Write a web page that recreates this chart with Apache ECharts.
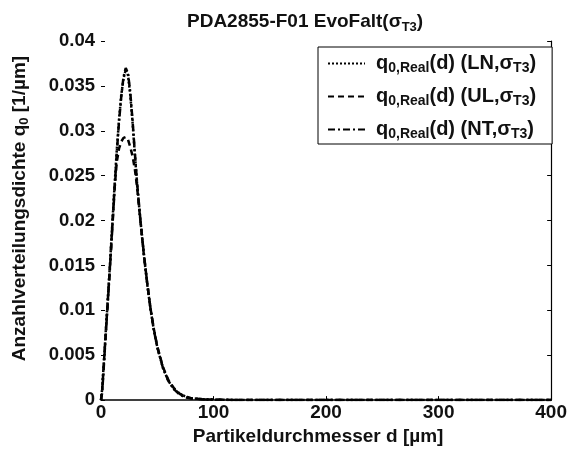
<!DOCTYPE html>
<html>
<head>
<meta charset="utf-8">
<script src="https://cdn.jsdelivr.net/npm/echarts@6/dist/echarts.min.js"></script>
<style>
  html, body { margin: 0; padding: 0; background: #fff; }
  #chart { width: 570px; height: 451px; }
</style>
</head>
<body>
<div id="chart"></div>
<script>
// Partikeldurchmesser d [µm]
const dValues = [0, 1, 2, 3, 4, 5, 6, 7, 8, 10, 12, 14, 16, 18, 20, 22, 24, 26, 28, 30, 32, 35, 38, 41, 44, 47, 50, 55, 60, 65, 70, 75, 80, 90, 100, 125, 150, 200, 250, 300, 350, 400];

// q0 Werte der drei Verteilungen
const qLN = [0, 0.0012, 0.0032, 0.0052, 0.0072, 0.0092, 0.0112, 0.0132, 0.0152, 0.0195, 0.0238, 0.0278, 0.0312, 0.0340, 0.0358, 0.0368, 0.0362, 0.0340, 0.0310, 0.0275, 0.0242, 0.0200, 0.0163, 0.0130, 0.0101, 0.0078, 0.0059, 0.0036, 0.0021, 0.0012, 0.0007, 0.0004, 0.0002, 0.0001, 0.00005, 0, 0, 0, 0, 0, 0, 0];
const qUL = [0, 0.0010, 0.0030, 0.0050, 0.0070, 0.0090, 0.0110, 0.0130, 0.0150, 0.0193, 0.0235, 0.0265, 0.0280, 0.0288, 0.0292, 0.0293, 0.0290, 0.0282, 0.0272, 0.0258, 0.0238, 0.0200, 0.0163, 0.0131, 0.0102, 0.0079, 0.0060, 0.0037, 0.0022, 0.0013, 0.0007, 0.0004, 0.0002, 0.0001, 0.00005, 0, 0, 0, 0, 0, 0, 0];
const qNT = [0, 0.0008, 0.0027, 0.0048, 0.0068, 0.0088, 0.0108, 0.0128, 0.0148, 0.0190, 0.0233, 0.0275, 0.0310, 0.0338, 0.0360, 0.0370, 0.0364, 0.0343, 0.0312, 0.0277, 0.0243, 0.0201, 0.0164, 0.0131, 0.0102, 0.0078, 0.0059, 0.0036, 0.0021, 0.0012, 0.0006, 0.0003, 0.0002, 0.0001, 0.00005, 0, 0, 0, 0, 0, 0, 0];

const seriesNames = ['LN', 'UL', 'NT'];

const FONT = 'Liberation Sans, Arial, sans-serif';
const toPairs = (ys) => dValues.map((d, i) => [d, ys[i]]);

// Text mit tiefgestellten Teilen
const richSub = (size, subSize, lh, drop) => ({
  b: { fontFamily: FONT, fontWeight: 'bold', fontSize: size, color: '#111', lineHeight: lh, verticalAlign: 'middle' },
  s: { fontFamily: FONT, fontWeight: 'bold', fontSize: subSize, color: '#111', lineHeight: lh, verticalAlign: 'bottom', padding: [drop, 0, 0, 0] }
});

const chart = echarts.init(document.getElementById('chart'));

const option = {
  backgroundColor: '#fff',
  animation: false,
  title: {
    text: '{b|PDA2855-F01 EvoFalt(σ}{s|T3}{b|)}',
    left: 187,
    top: 10,
    padding: 0,
    textStyle: { rich: richSub(19, 13, 24, 12) }
  },
  legend: {
    orient: 'vertical',
    left: 318,
    top: 47,
    padding: [3, 16, 3, 9],
    itemGap: 8,
    itemWidth: 37,
    itemHeight: 12,
    borderColor: '#000',
    borderWidth: 1,
    backgroundColor: '#fff',
    itemStyle: { opacity: 0 },
    data: seriesNames,
    formatter: (name) => '{g|}{b|q}{s|0,Real}{b|(d) (' + name + ',σ}{s|T3}{b|)}',
    textStyle: {
      rich: Object.assign(richSub(20, 14, 23, 11), { g: { width: 6 } })
    }
  },
  grid: { left: 99, right: 11, top: 41, bottom: 48 },
  xAxis: {
    type: 'value',
    min: 0,
    max: 400,
    interval: 100,
    name: 'Partikeldurchmesser d [µm]',
    nameLocation: 'middle',
    nameGap: 26,
    nameTextStyle: { fontFamily: FONT, fontWeight: 'bold', fontSize: 19, color: '#111', padding: [0, 16, 0, 0] },
    axisLine: { show: true, lineStyle: { color: '#000', width: 1.5 } },
    axisTick: { show: true, inside: true, length: 4, lineStyle: { color: '#000' } },
    axisLabel: { fontFamily: FONT, fontWeight: 'bold', fontSize: 19, color: '#111', margin: 3 },
    splitLine: { show: false }
  },
  yAxis: [{
    type: 'value',
    min: 0,
    max: 0.04,
    interval: 0.005,
    name: '{b|Anzahlverteilungsdichte q}{s|0}{b| [1/µm]}',
    nameLocation: 'middle',
    nameGap: 70,
    nameTextStyle: { padding: [0, 0, 0, 24], rich: richSub(19, 13, 22, 10) },
    axisLine: { show: false },
    axisTick: { show: true, inside: true, length: 4, lineStyle: { color: '#000' } },
    axisLabel: {
      fontFamily: FONT, fontWeight: 'bold', fontSize: 18.5, color: '#111', margin: 6,
      formatter: (v) => String(+v.toFixed(3))
    },
    splitLine: { show: false }
  }, {
    type: 'value',
    position: 'right',
    min: 0,
    max: 0.04,
    interval: 0.005,
    axisLine: { show: true, lineStyle: { color: '#000', width: 1.2 } },
    axisTick: { show: true, inside: true, length: 4, lineStyle: { color: '#000' } },
    axisLabel: { show: false },
    splitLine: { show: false }
  }],
  series: [
    {
      name: 'LN',
      type: 'line',
      data: toPairs(qLN),
      symbol: 'none',
      itemStyle: { color: '#000' },
      lineStyle: { color: '#000', width: 2.5, type: [2, 2] }
    },
    {
      name: 'UL',
      type: 'line',
      data: toPairs(qUL),
      symbol: 'none',
      itemStyle: { color: '#000' },
      lineStyle: { color: '#000', width: 2.5, type: [6, 4] }
    },
    {
      name: 'NT',
      type: 'line',
      data: toPairs(qNT),
      symbol: 'none',
      itemStyle: { color: '#000' },
      lineStyle: { color: '#000', width: 2.5, type: [7, 3, 2, 3] }
    }
  ]
};

chart.setOption(option);
</script>
</body>
</html>
